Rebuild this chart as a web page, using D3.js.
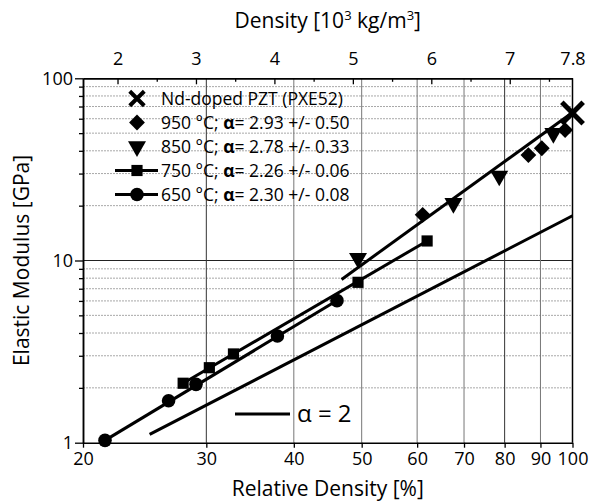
<!doctype html>
<html>
  <head>
    <meta charset="utf-8">
    <style>
      body { margin: 0; background: #fff; }
      svg { font-family: "Open Sans", sans-serif; }
    </style>
  </head>
  <body>
    <div id="chart"></div>
    <script src="https://d3js.org/d3.v7.min.js"></script>
    <script>
      // measured points, relative density [%] and elastic modulus [GPa]
      var rel650 = [21.5, 26.5, 29.0, 37.9, 46.1];
      var mod650 = [1.03, 1.70, 2.09, 3.85, 6.02];
      var rel750 = [27.8, 30.3, 32.8, 49.4, 62.0];
      var mod750 = [2.12, 2.58, 3.07, 7.59, 12.8];
      var rel850 = [49.4, 67.6, 78.6, 93.9];
      var mod850 = [10.3, 20.6, 29.1, 49.9];
      var rel950 = [61.1, 86.5, 90.4, 97.6];
      var mod950 = [17.8, 37.9, 41.3, 52.0];
      var relPXE = [100];
      var modPXE = [64.5];

      // fitted lines (end points)
      var fit650 = [[21.5, 1.03], [46.8, 6.24]];
      var fit750 = [[27.8, 2.12], [62.0, 12.8]];
      var fit850 = [[46.8, 7.87], [100, 64.9]];
      var fitAlpha2 = [[24.9, 1.11], [100, 17.6]];

      var xTicks = [20, 30, 40, 50, 60, 70, 80, 90, 100];
      var yTicks = [1, 10, 100];
      var yMinor = [2, 3, 4, 5, 6, 7, 8, 9, 20, 30, 40, 50, 60, 70, 80, 90];
      var topTicks = [2, 3, 4, 5, 6, 7, 7.8];
      var topMinor = [2.5, 3.5, 4.5, 5.5, 6.5, 7.5];

      var legendLabels = [
        'Nd-doped PZT (PXE52)',
        '950 °C; |α|= 2.93 +/- 0.50',
        '850 °C; |α|= 2.78 +/- 0.33',
        '750 °C; |α|= 2.26 +/- 0.06',
        '650 °C; |α|= 2.30 +/- 0.08'
      ];

      (function(d3) {
        var width = 591, height = 502;
        var mLeft = 83, mRight = 572.5, mTop = 78.3, mBottom = 442.7;

        var svg = d3.select('#chart').append('svg')
          .attr('width', width)
          .attr('height', height);

        var x = d3.scaleLog().domain([20, 100]).range([mLeft, mRight]);
        var y = d3.scaleLog().domain([1, 100]).range([mBottom, mTop]);
        var xTop = d3.scaleLinear().domain([7.8 * 0.2, 7.8]).range([mLeft, mRight]);

        // grid
        svg.append('g').selectAll('line')
          .data(yMinor)
          .enter().append('line')
          .attr('x1', mLeft).attr('x2', mRight)
          .attr('y1', function(d) { return y(d); })
          .attr('y2', function(d) { return y(d); })
          .attr('stroke', '#a8a8a8')
          .attr('stroke-width', 1)
          .attr('stroke-dasharray', '2,1');
        svg.append('line')
          .attr('x1', mLeft).attr('x2', mRight)
          .attr('y1', y(10)).attr('y2', y(10))
          .attr('stroke', '#222').attr('stroke-width', 1);
        svg.append('g').selectAll('line')
          .data(xTicks.slice(1, -1))
          .enter().append('line')
          .attr('x1', function(d) { return x(d); })
          .attr('x2', function(d) { return x(d); })
          .attr('y1', mTop).attr('y2', mBottom)
          .attr('stroke', function(d) { return d == 30 || d == 80 ? '#333' : '#777'; })
          .attr('stroke-width', 1);

        // axes
        svg.append('g')
          .attr('transform', 'translate(0,' + mBottom + ')')
          .call(d3.axisBottom(x).tickValues(xTicks).tickFormat(d3.format('d'))
            .tickSizeInner(5).tickSizeOuter(0).tickPadding(5));
        svg.append('g')
          .attr('transform', 'translate(' + mLeft + ',0)')
          .call(d3.axisLeft(y).tickValues(yTicks).tickFormat(d3.format('d'))
            .tickSizeInner(8).tickSizeOuter(0).tickPadding(2));
        svg.append('g')
          .attr('transform', 'translate(' + mLeft + ',0)')
          .call(d3.axisLeft(y).tickValues(yMinor).tickFormat('')
            .tickSizeInner(4).tickSizeOuter(0));
        var gt = svg.append('g')
          .attr('transform', 'translate(0,' + mTop + ')')
          .call(d3.axisTop(xTop).tickValues(topTicks).tickFormat(d3.format('~g'))
            .tickSizeInner(-6).tickSizeOuter(0).tickPadding(13));
        svg.append('g')
          .attr('transform', 'translate(0,' + mTop + ')')
          .call(d3.axisTop(xTop).tickValues(topMinor).tickFormat('')
            .tickSizeInner(-3.5).tickSizeOuter(0));
        svg.append('line')
          .attr('x1', mRight).attr('x2', mRight).attr('y1', mTop).attr('y2', mBottom)
          .attr('stroke', '#000').attr('stroke-width', 1.5);
        svg.selectAll('.domain').attr('stroke-width', 1.5);
        svg.selectAll('.tick line').attr('stroke-width', 1.3);
        svg.selectAll('.tick text').attr('font-size', 18).attr('font-family', '"Open Sans", sans-serif').attr('fill', '#000');
        gt.select('.tick:last-of-type line').remove();

        // axis titles
        svg.append('text')
          .attr('x', (mLeft + mRight) / 2).attr('y', 496)
          .attr('text-anchor', 'middle').attr('font-size', 21)
          .text('Relative Density [%]');
        svg.append('text')
          .attr('transform', 'translate(29,' + (mTop + mBottom) / 2 + ') rotate(-90)')
          .attr('text-anchor', 'middle').attr('font-size', 21)
          .text('Elastic Modulus [GPa]');
        var tt = svg.append('text')
          .attr('x', (mLeft + mRight) / 2).attr('y', 28)
          .attr('text-anchor', 'middle').attr('font-size', 21);
        tt.append('tspan').text('Density [10');
        tt.append('tspan').attr('font-size', 13).attr('dy', -8).text('3');
        tt.append('tspan').attr('dy', 8).text(' kg/m');
        tt.append('tspan').attr('font-size', 13).attr('dy', -8).text('3');
        tt.append('tspan').attr('dy', 8).text(']');

        // fit lines
        var line = d3.line()
          .x(function(d) { return x(d[0]); })
          .y(function(d) { return y(d[1]); });
        svg.append('g').selectAll('path')
          .data([fit650, fit750, fit850, fitAlpha2])
          .enter().append('path')
          .attr('d', line)
          .attr('fill', 'none')
          .attr('stroke', '#000')
          .attr('stroke-width', 3);

        // markers
        var sym = {
          circle: { type: d3.symbolCircle, size: 145, rot: 0 },
          square: { type: d3.symbolSquare, size: 125, rot: 0 },
          tri: { type: d3.symbolTriangle, size: 140, rot: 180 },
          diamond: { type: d3.symbolSquare, size: 125, rot: 45 }
        };
        function drawSeries(rel, mod, s) {
          svg.append('g').selectAll('path')
            .data(d3.zip(rel, mod))
            .enter().append('path')
            .attr('d', d3.symbol().type(s.type).size(s.size))
            .attr('transform', function(d) {
              return 'translate(' + x(d[0]) + ',' + y(d[1]) + ') rotate(' + s.rot + ')';
            })
            .attr('fill', '#000');
        }
        drawSeries(rel650, mod650, sym.circle);
        drawSeries(rel750, mod750, sym.square);
        drawSeries(rel850, mod850, sym.tri);
        drawSeries(rel950, mod950, sym.diamond);
        svg.append('g').selectAll('path')
          .data(d3.zip(relPXE, modPXE))
          .enter().append('path')
          .attr('d', d3.symbol().type(d3.symbolX).size(300))
          .attr('transform', function(d) { return 'translate(' + x(d[0]) + ',' + y(d[1]) + ')'; })
          .attr('fill', 'none').attr('stroke', '#000').attr('stroke-width', 5);

        // legend
        var legend = svg.append('g');
        var legSyms = [null, sym.diamond, sym.tri, sym.square, sym.circle];
        legendLabels.forEach(function(lab, i) {
          var ly = 98.5 + i * 24;
          var g = legend.append('g').attr('transform', 'translate(137,' + ly + ')');
          if (i == 0) {
            g.append('path').attr('d', d3.symbol().type(d3.symbolX).size(140))
              .attr('fill', 'none').attr('stroke', '#000').attr('stroke-width', 4);
          } else {
            if (i >= 3) {
              g.append('line').attr('x1', -22).attr('x2', 21)
                .attr('stroke', '#000').attr('stroke-width', 3);
            }
            g.append('path').attr('d', d3.symbol().type(legSyms[i].type).size(legSyms[i].size))
              .attr('transform', 'rotate(' + legSyms[i].rot + ')')
              .attr('fill', '#000');
          }
          var t = g.append('text').attr('x', 24).attr('dy', '0.35em').attr('font-size', 17.5);
          lab.split('|').forEach(function(part, k) {
            t.append('tspan').attr('font-weight', k == 1 ? 'bold' : null).text(part);
          });
        });

        // alpha = 2 label
        svg.append('line')
          .attr('x1', 235).attr('x2', 290).attr('y1', 414).attr('y2', 414)
          .attr('stroke', '#000').attr('stroke-width', 3);
        svg.append('text')
          .attr('x', 297).attr('y', 422).attr('font-size', 24)
          .text('α = 2');
      })(window.d3);
    </script>
  </body>
</html>
